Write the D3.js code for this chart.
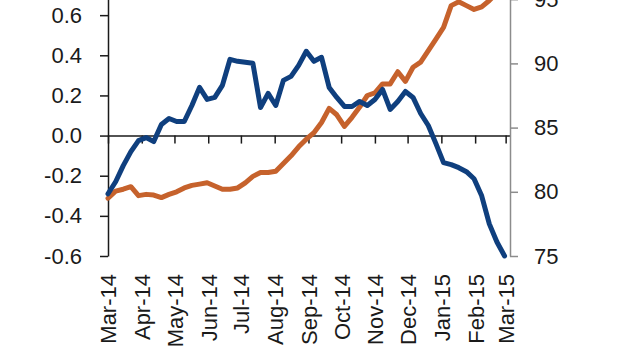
<!DOCTYPE html>
<html>
<head>
<meta charset="utf-8">
<script src="https://cdn.jsdelivr.net/npm/d3@7"></script>
<style>
  body { margin: 0; background: #fff; }
  text { font-family: "Liberation Sans", Arial, sans-serif; }
</style>
</head>
<body>
<div id="vis-container"></div>
<script>

/* DATA */

// weekly observations, first week starts 1 Mar 2014
const startDate = new Date(2014, 2, 1);

const monthTicks = ["Mar-14","Apr-14","May-14","Jun-14","Jul-14","Aug-14","Sep-14",
	"Oct-14","Nov-14","Dec-14","Jan-15","Feb-15","Mar-15"];

// left axis series (blue)
const blueValues = [-0.29,-0.23,-0.15,-0.08,-0.025,-0.01,-0.03,0.055,0.085,0.07,
	0.07,0.15,0.24,0.18,0.19,0.25,0.38,0.37,0.365,0.36,
	0.14,0.21,0.15,0.275,0.295,0.35,0.42,0.37,0.39,0.24,
	0.19,0.145,0.145,0.17,0.15,0.18,0.23,0.13,0.17,0.22,
	0.19,0.11,0.05,-0.04,-0.135,-0.145,-0.16,-0.18,-0.215,-0.3,
	-0.44,-0.53,-0.6];

// right axis series (orange)
const orangeValues = [79.5,80.05,80.2,80.4,79.7,79.8,79.75,79.55,79.8,80.0,
	80.3,80.5,80.6,80.7,80.45,80.2,80.2,80.3,80.7,81.2,
	81.5,81.5,81.6,82.2,82.8,83.5,84.1,84.6,85.4,86.5,
	86.0,85.1,85.8,86.6,87.5,87.7,88.4,88.4,89.35,88.6,
	89.7,90.1,91.0,91.9,92.8,94.5,94.8,94.5,94.2,94.4,
	94.9,95.5,96.0];

const leftTicks = [-0.6,-0.4,-0.2,0.0,0.2,0.4,0.6];
const rightTicks = [75,80,85,90,95];

/* CHART */

const width = 640,
	height = 360;

const parseMonth = d3.timeParse("%b-%y");
const monthDates = monthTicks.map(parseMonth);

const data = blueValues.map((v, i) => ({
	date: d3.timeDay.offset(startDate, i * 7),
	blue: v,
	orange: orangeValues[i]
}));

let x = d3.scaleTime()
	.domain([startDate, new Date(2015, 2, 5)])
	.range([108, 510]);

let yL = d3.scaleLinear().domain([-0.6, 0.8]).range([256, -25]);
let yR = d3.scaleLinear().domain([75, 100]).range([256, -65]);

let svg = d3.select("#vis-container")
	.append("svg")
	.attr("width", width)
	.attr("height", height);

// zero line with month ticks
let xAxis = svg.append("g")
	.attr("transform", "translate(0," + yL(0) + ")")
	.call(d3.axisBottom(x).tickValues(monthDates).tickSize(8).tickSizeOuter(0).tickFormat(""));
xAxis.selectAll("path, line").attr("stroke", "#1a1a1a").attr("stroke-width", 1.5);

// month labels under the chart
let xLabels = svg.append("g")
	.attr("transform", "translate(0," + yL(-0.6) + ")")
	.call(d3.axisBottom(x).tickValues(monthDates).tickSize(0).tickFormat(d3.timeFormat("%b-%y")));
xLabels.select(".domain").remove();
xLabels.selectAll("text")
	.attr("transform", "rotate(-90)")
	.attr("text-anchor", "end")
	.attr("x", -18)
	.attr("y", 0)
	.attr("dy", "0.36em")
	.attr("font-size", 22)
	.attr("fill", "#1a1a1a");

// left axis
let leftAxis = svg.append("g")
	.attr("transform", "translate(108,0)")
	.call(d3.axisLeft(yL).tickValues(leftTicks).tickSize(8).tickSizeOuter(0).tickPadding(18)
		.tickFormat(d => d.toFixed(1)));
leftAxis.selectAll("path, line").attr("stroke", "#1a1a1a").attr("stroke-width", 1.5);
leftAxis.selectAll("text").attr("font-size", 22).attr("font-family", "Liberation Sans, Arial").attr("fill", "#1a1a1a");

// right axis
let rightAxis = svg.append("g")
	.attr("transform", "translate(510,0)")
	.call(d3.axisRight(yR).tickValues(rightTicks).tickSize(8).tickSizeOuter(0).tickPadding(16));
rightAxis.selectAll("path, line").attr("stroke", "#8c8c8c").attr("stroke-width", 1.5);
rightAxis.selectAll("text").attr("font-size", 22).attr("font-family", "Liberation Sans, Arial").attr("fill", "#1a1a1a");

let orangeLine = d3.line()
	.x(d => x(d.date))
	.y(d => yR(d.orange));

let blueLine = d3.line()
	.x(d => x(d.date))
	.y(d => yL(d.blue));

svg.append("path")
	.datum(data)
	.attr("fill", "none")
	.attr("stroke", "#c6622c")
	.attr("stroke-linejoin", "round")
	.attr("stroke-linecap", "round")
	.attr("stroke-width", 5)
	.attr("d", orangeLine);

svg.append("path")
	.datum(data)
	.attr("fill", "none")
	.attr("stroke", "#0f3f7e")
	.attr("stroke-linejoin", "round")
	.attr("stroke-linecap", "round")
	.attr("stroke-width", 5)
	.attr("d", blueLine);

</script>
</body>
</html>
